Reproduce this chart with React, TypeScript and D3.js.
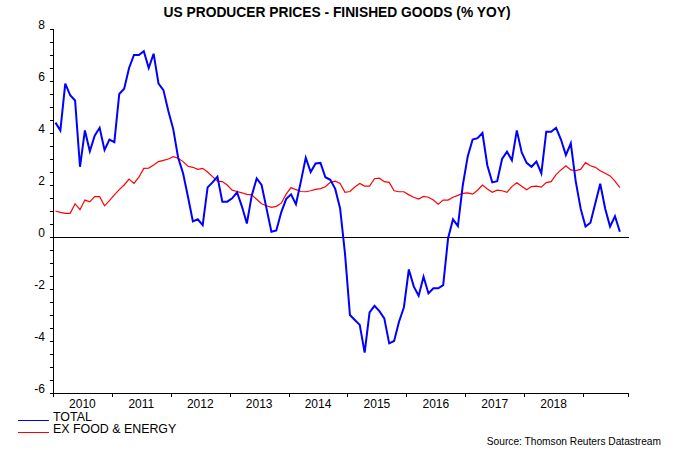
import React from "react";
import * as d3 from "d3";

// Monthly data, Jan 2010 .. Aug 2019 (% YoY)
const startYear = 2010;
const total = [
  4.4, 4.1, 5.9, 5.45, 5.25, 2.7, 4.1, 3.3, 3.9, 4.2, 3.35, 3.75,
  3.65, 5.5, 5.7, 6.5, 7.0, 7.0, 7.15, 6.5, 7.05, 5.9, 5.65, 4.85,
  4.15, 3.05, 2.45, 1.55, 0.6, 0.68, 0.46, 1.91, 2.1, 2.32, 1.36, 1.36,
  1.49, 1.72, 1.17, 0.52, 1.6, 2.25, 2.0, 1.1, 0.2, 0.25, 0.95, 1.46,
  1.64, 1.26, 2.13, 3.05, 2.5, 2.83, 2.85, 2.3, 2.2, 1.85, 1.1, -0.65,
  -3.0, -3.19, -3.38, -4.45, -2.9, -2.65, -2.85, -3.13, -4.09, -4.0, -3.26, -2.7,
  -1.25, -1.9, -2.26, -1.53, -2.17, -1.97, -1.97, -1.85, -0.05, 0.68, 0.42, 2.0,
  3.1, 3.75, 3.8, 4.0, 2.75, 2.1, 2.15, 3.0, 3.28, 2.95, 4.1, 3.25,
  2.85, 2.7, 2.9, 2.45, 4.05, 4.05, 4.2, 3.75, 3.15, 3.6, 2.15, 1.1,
  0.4, 0.55, 1.3, 2.05, 1.1, 0.4, 0.8, 0.2,
];
const exFoodEnergy = [
  1.0, 0.95, 0.91, 0.91, 1.28, 1.05, 1.42, 1.35, 1.55, 1.55, 1.2, 1.4,
  1.62, 1.82, 2.0, 2.23, 2.06, 2.3, 2.64, 2.65, 2.77, 2.9, 2.95, 3.0,
  3.09, 3.03, 2.9, 2.72, 2.68, 2.6, 2.64, 2.5, 2.32, 2.15, 2.13, 2.0,
  1.8, 1.75, 1.7, 1.64, 1.62, 1.45, 1.28, 1.2, 1.14, 1.18, 1.3, 1.65,
  1.9, 1.82, 1.75, 1.74, 1.78, 1.83, 1.86, 1.93, 2.1, 2.15, 2.06, 1.72,
  1.75, 1.92, 2.06, 1.96, 1.96, 2.24, 2.26, 2.13, 2.1, 1.78, 1.74, 1.74,
  1.62, 1.53, 1.46, 1.56, 1.53, 1.42, 1.26, 1.42, 1.42, 1.53, 1.6, 1.68,
  1.7, 1.65, 1.8, 2.0, 1.85, 1.72, 1.8, 1.78, 1.72, 1.94, 2.09, 1.95,
  1.82, 1.94, 1.96, 1.92, 2.09, 2.13, 2.4, 2.58, 2.74, 2.58, 2.55, 2.6,
  2.86, 2.74, 2.68, 2.55, 2.45, 2.35, 2.15, 1.9,
];
const yearLabels = ["2010", "2011", "2012", "2013", "2014", "2015", "2016", "2017", "2018"];
const yearTicks = [2010, 2011, 2012, 2013, 2014, 2015, 2016, 2017, 2018, 2019];
const yTickValues = [-6, -4, -2, 0, 2, 4, 6, 8];
const seriesNames = ["TOTAL", "EX FOOD & ENERGY"];
const seriesColors = ["#0000ff", "#ff0000"];
const title = "US PRODUCER PRICES - FINISHED GOODS (% YOY)";
const source = "Source: Thomson Reuters Datastream";

const W = 675;
const H = 450;
const left = 53;
const right = 629;
const top = 29;
const bottom = 393;
const font = "Arial, 'Liberation Sans', sans-serif";

export default function App() {
  const x = d3.scaleLinear().domain([2010, 2019.78]).range([left, right]);
  const y = d3.scaleLinear().domain([-6, 8]).range([bottom, top]);
  const t = (i: number) => startYear + (i + 0.5) / 12;
  const line = d3
    .line<number>()
    .x((_, i) => x(t(i)))
    .y((d) => y(d));
  const minor = d3.range(-6, 8.01, 0.5);

  return (
    <svg
      width={W}
      height={H}
      style={{ position: "absolute", left: 0, top: 0, background: "#fff" }}
      fontFamily={font}
    >
      <rect x={0} y={0} width={W} height={H} fill="#fff" />
      <text x={337} y={17} textAnchor="middle" fontSize={13.8} fontWeight="bold" fill="#000">
        {title}
      </text>

      {/* y axis */}
      <g shapeRendering="crispEdges" stroke="#000">
        <line x1={left + 0.5} x2={left + 0.5} y1={top} y2={bottom} />
        {minor.map((v) => (
          <line key={v} x1={left - 3} x2={left} y1={Math.round(y(v)) + 0.5} y2={Math.round(y(v)) + 0.5} />
        ))}
      </g>
      {yTickValues.map((v) => (
        <text key={v} x={45} y={y(v) - 0.5} textAnchor="end" fontSize={12} fill="#000">
          {v}
        </text>
      ))}

      {/* x axis */}
      <g shapeRendering="crispEdges" stroke="#000">
        <line x1={left} x2={right} y1={bottom + 0.5} y2={bottom + 0.5} />
        {yearTicks.map((yr) => (
          <line key={yr} x1={Math.round(x(yr)) + 0.5} x2={Math.round(x(yr)) + 0.5} y1={bottom} y2={bottom + 4} />
        ))}
        <line x1={right - 0.5} x2={right - 0.5} y1={bottom} y2={bottom + 4} />
        {/* zero line */}
        <line x1={left} x2={right} y1={Math.round(y(0)) + 0.5} y2={Math.round(y(0)) + 0.5} />
      </g>
      {yearLabels.map((lab, i) => (
        <text key={lab} x={x(2010 + i + 0.5)} y={407.5} textAnchor="middle" fontSize={12} fill="#000">
          {lab}
        </text>
      ))}

      {/* series */}
      <path d={line(exFoodEnergy) || ""} fill="none" stroke={seriesColors[1]} strokeWidth={1.2} />
      <path d={line(total) || ""} fill="none" stroke={seriesColors[0]} strokeWidth={2} />

      {/* legend */}
      {seriesNames.map((n, i) => (
        <g key={n}>
          <line x1={18} x2={49} y1={420.5 + i * 12} y2={420.5 + i * 12} stroke={seriesColors[i]} strokeWidth={1} shapeRendering="crispEdges" />
          <text x={53} y={421 + i * 12} fontSize={12.4} fill="#000">
            {n}
          </text>
        </g>
      ))}
      <text x={661} y={445} textAnchor="end" fontSize={10.2} fill="#000">
        {source}
      </text>
    </svg>
  );
}
